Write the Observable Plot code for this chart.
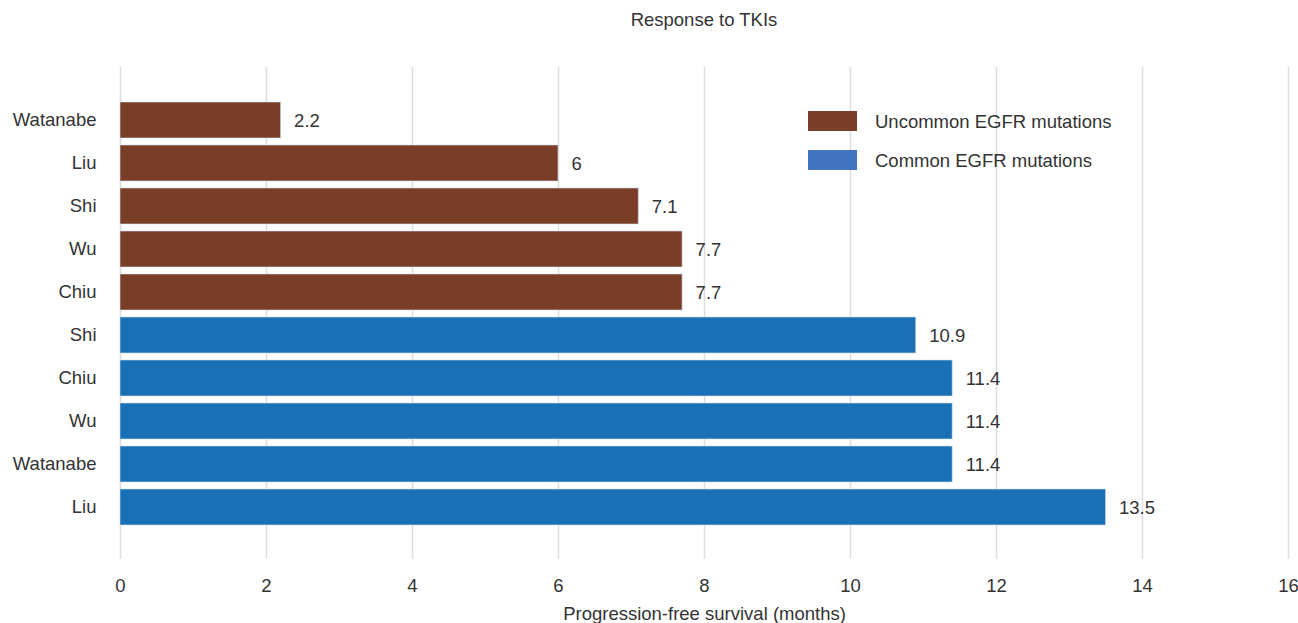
<!DOCTYPE html>
<html>
<head>
<meta charset="utf-8">
<script src="https://cdn.jsdelivr.net/npm/d3@7"></script>
<script src="https://cdn.jsdelivr.net/npm/@observablehq/plot@0.6"></script>
<style>
  body { margin: 0; background: #fff; font-family: "Liberation Sans", Arial, sans-serif; }
  #wrap { position: relative; width: 1298px; height: 623px; }
  #title { position: absolute; left: 120px; width: 1168px; top: 9px; text-align: center; font-size: 18.5px; color: #333; }
  #legend { position: absolute; left: 808px; top: 111px; font-size: 18.5px; color: #333; }
  .item { display: flex; align-items: center; height: 20px; margin-bottom: 19px; }
  .sw { width: 49px; height: 20px; margin-right: 18px; }
  .item span { position: relative; top: 1px; }
</style>
</head>
<body>
<div id="wrap">
  <div id="title">Response to TKIs</div>
  <div id="legend"></div>
</div>
<script>
const authors = ["Watanabe", "Liu", "Shi", "Wu", "Chiu", "Shi", "Chiu", "Wu", "Watanabe", "Liu"];
const pfs = [2.2, 6, 7.1, 7.7, 7.7, 10.9, 11.4, 11.4, 11.4, 13.5];
const groups = ["Uncommon EGFR mutations", "Uncommon EGFR mutations", "Uncommon EGFR mutations", "Uncommon EGFR mutations", "Uncommon EGFR mutations",
                "Common EGFR mutations", "Common EGFR mutations", "Common EGFR mutations", "Common EGFR mutations", "Common EGFR mutations"];
const legendNames = ["Uncommon EGFR mutations", "Common EGFR mutations"];
const barColors = ["#7a3e28", "#1a70b5"];
const legendColors = ["#7b3f29", "#4273bf"];
const xTicks = [0, 2, 4, 6, 8, 10, 12, 14, 16];

const data = authors.map((a, i) => ({key: String(i), author: a, value: pfs[i], group: groups[i]}));

const chart = Plot.plot({
  width: 1298,
  height: 623,
  marginTop: 67,
  marginBottom: 64,
  marginLeft: 120,
  marginRight: 10,
  style: {fontFamily: "'Liberation Sans', Arial, sans-serif", fontSize: "18.5px", color: "#333", background: "#fff"},
  x: {domain: [0, 16], ticks: xTicks, label: "Progression-free survival (months)", labelAnchor: "center", labelArrow: "none"},
  y: {domain: data.map(d => d.key), paddingInner: 0.17, paddingOuter: 0.76, label: null},
  color: {domain: legendNames, range: barColors},
  marks: [
    Plot.gridX(xTicks, {stroke: "#ddd", strokeOpacity: 1, strokeWidth: 1.5}),
    Plot.barX(data, {x: "value", y: "key", fill: "group", stroke: "#cfe0f0", strokeWidth: 1, strokeOpacity: 0.6}),
    Plot.text(data, {x: "value", y: "key", text: d => String(d.value), textAnchor: "start", dx: 13, dy: 1, fontSize: 18.5, fill: "#333"}),
    Plot.axisY({tickSize: 0, tickPadding: 24, tickFormat: k => authors[+k], fontSize: 18.5, label: null}),
    Plot.axisX({ticks: xTicks, tickSize: 0, tickPadding: 19, fontSize: 18.5, label: "Progression-free survival (months)", labelAnchor: "center", labelArrow: "none", labelOffset: 60})
  ]
});
document.getElementById("wrap").prepend(chart);
chart.style.position = "absolute";
chart.style.left = "0";
chart.style.top = "0";

const leg = document.getElementById("legend");
legendNames.forEach((n, i) => {
  const it = document.createElement("div");
  it.className = "item";
  const sw = document.createElement("div");
  sw.className = "sw";
  sw.style.background = legendColors[i];
  const lb = document.createElement("span");
  lb.textContent = n;
  it.appendChild(sw); it.appendChild(lb);
  leg.appendChild(it);
});
</script>
</body>
</html>
